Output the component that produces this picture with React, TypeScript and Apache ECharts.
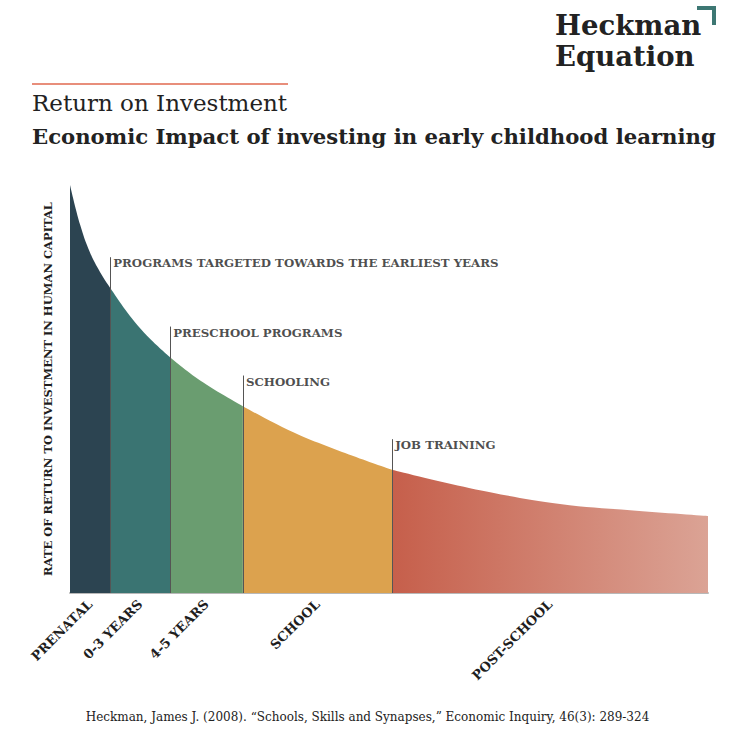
import React, { useEffect, useRef } from "react";
import * as echarts from "echarts";

const xPos = [0, 1.6, 3.1, 4.7, 6.3, 9.4, 12.5, 15.7, 20.4, 27.1, 36.1, 50.5, 62.7, 76.8, 87.8, 100];
const returnRate = [100, 90.2, 83.6, 78.7, 74.8, 67.9, 62.4, 57.8, 52.1, 45.8, 38.6, 30.2, 25.7, 21.8, 20.3, 18.9];
const stageBounds = [0, 6.3, 15.7, 27.1, 50.5, 100];
const stageNames = ["PRENATAL", "0-3 YEARS", "4-5 YEARS", "SCHOOL", "POST-SCHOOL"];
const programStarts = [6.3, 15.7, 27.1, 50.5];
const programNames = [
  "PROGRAMS TARGETED TOWARDS THE EARLIEST YEARS",
  "PRESCHOOL PROGRAMS",
  "SCHOOLING",
  "JOB TRAINING",
];

const SERIF = "DejaVu Serif";

export default function App() {
  const ref = useRef<HTMLDivElement>(null);
  useEffect(() => {
    if (!ref.current) return;
    const chart = echarts.init(ref.current, undefined, { renderer: "svg" });
    const stageColors: any[] = [
      "#2c4451",
      "#3a7472",
      "#6a9d70",
      "#dca24e",
      new echarts.graphic.LinearGradient(0, 0, 1, 0, [
        { offset: 0, color: "#c65f4b" },
        { offset: 1, color: "#dba395" },
      ]),
    ];
    const pts = xPos.map((x, i) => [x, returnRate[i]]);
    const stageSeries = stageNames.map((name, i) => ({
      type: "line",
      name,
      data: pts.filter((p) => p[0] >= stageBounds[i] - 1e-9 && p[0] <= stageBounds[i + 1] + 1e-9),
      smooth: 0.4,
      showSymbol: false,
      symbol: "none",
      lineStyle: { width: 0 },
      areaStyle: { color: stageColors[i], opacity: 1 },
      silent: true,
      z: 2,
    }));
    const curveAt = (x: number) => returnRate[xPos.indexOf(x)];
    const mids = stageNames.map((_, i) => (stageBounds[i] + stageBounds[i + 1]) / 2);

    chart.setOption({
      animation: false,
      grid: { left: 70, right: 27, top: 185, bottom: 138 },
      xAxis: {
        type: "value",
        min: 0,
        max: 100,
        splitLine: { show: false },
        axisLine: { show: true, lineStyle: { color: "#b8b8b8", width: 2 } },
        axisTick: { show: false },
        axisLabel: {
          customValues: mids,
          rotate: 45,
          margin: 9,
          color: "#1e1e1e",
          fontFamily: SERIF,
          fontWeight: "bold",
          fontSize: 13,
          formatter: (v: number) => {
            let best = 0;
            mids.forEach((m, i) => {
              if (Math.abs(m - v) < Math.abs(mids[best] - v)) best = i;
            });
            return stageNames[best];
          },
        },
      },
      yAxis: {
        type: "value",
        min: 0,
        max: 100,
        splitLine: { show: false },
        axisLine: { show: false },
        axisTick: { show: false },
        axisLabel: { show: false },
        name: "RATE OF RETURN TO INVESTMENT IN HUMAN CAPITAL",
        nameLocation: "middle",
        nameRotate: 90,
        nameGap: 16,
        nameTextStyle: { color: "#1e1e1e", fontFamily: SERIF, fontWeight: "bold", fontSize: 11.5 },
      },
      series: [
        ...stageSeries,
        {
          type: "scatter",
          symbolSize: 0,
          z: 5,
          silent: true,
          data: programStarts.map((x, i) => ({ name: programNames[i], value: [x, curveAt(x) + 6] })),
          label: {
            show: true,
            position: "right",
            distance: 3,
            formatter: (p: any) => p.name,
            color: "#1e1e1e",
            fontFamily: SERIF,
            fontWeight: "bold",
            fontSize: 11.8,
          },
          markLine: {
            silent: true,
            symbol: "none",
            label: { show: false },
            lineStyle: { color: "#555", width: 1, type: "solid" },
            data: programStarts.map((x) => [{ coord: [x, 0] }, { coord: [x, curveAt(x) + 7.5] }]),
          },
        },
      ],
      graphic: [
        {
          type: "text",
          left: 555,
          top: 9,
          style: {
            text: "Heckman\nEquation",
            fill: "#222",
            font: `bold 27.5px ${SERIF}`,
            lineHeight: 31,
          },
        },
        {
          type: "polyline",
          shape: { points: [[697, 8], [714, 8], [714, 25]] },
          style: { stroke: "#3d7773", lineWidth: 4, fill: null },
        },
        {
          type: "line",
          shape: { x1: 32, y1: 84, x2: 288, y2: 84 },
          style: { stroke: "#e0694f", lineWidth: 1.5 },
        },
        {
          type: "text",
          left: 32,
          top: 91,
          style: { text: "Return on Investment", fill: "#222", font: `23px ${SERIF}` },
        },
        {
          type: "text",
          left: 32,
          top: 126,
          style: {
            text: "Economic Impact of investing in early childhood learning",
            fill: "#222",
            font: `bold 21.2px ${SERIF}`,
          },
        },
        {
          type: "text",
          left: "center",
          top: 711,
          style: {
            text: "Heckman, James J. (2008). \u201cSchools, Skills and Synapses,\u201d Economic Inquiry, 46(3): 289-324",
            fill: "#222",
            font: `12px ${SERIF}`,
          },
        },
      ],
    });
    return () => chart.dispose();
  }, []);
  return (
    <div
      ref={ref}
      style={{ position: "fixed", left: 0, top: 0, width: 735, height: 731, background: "#fff" }}
    />
  );
}
